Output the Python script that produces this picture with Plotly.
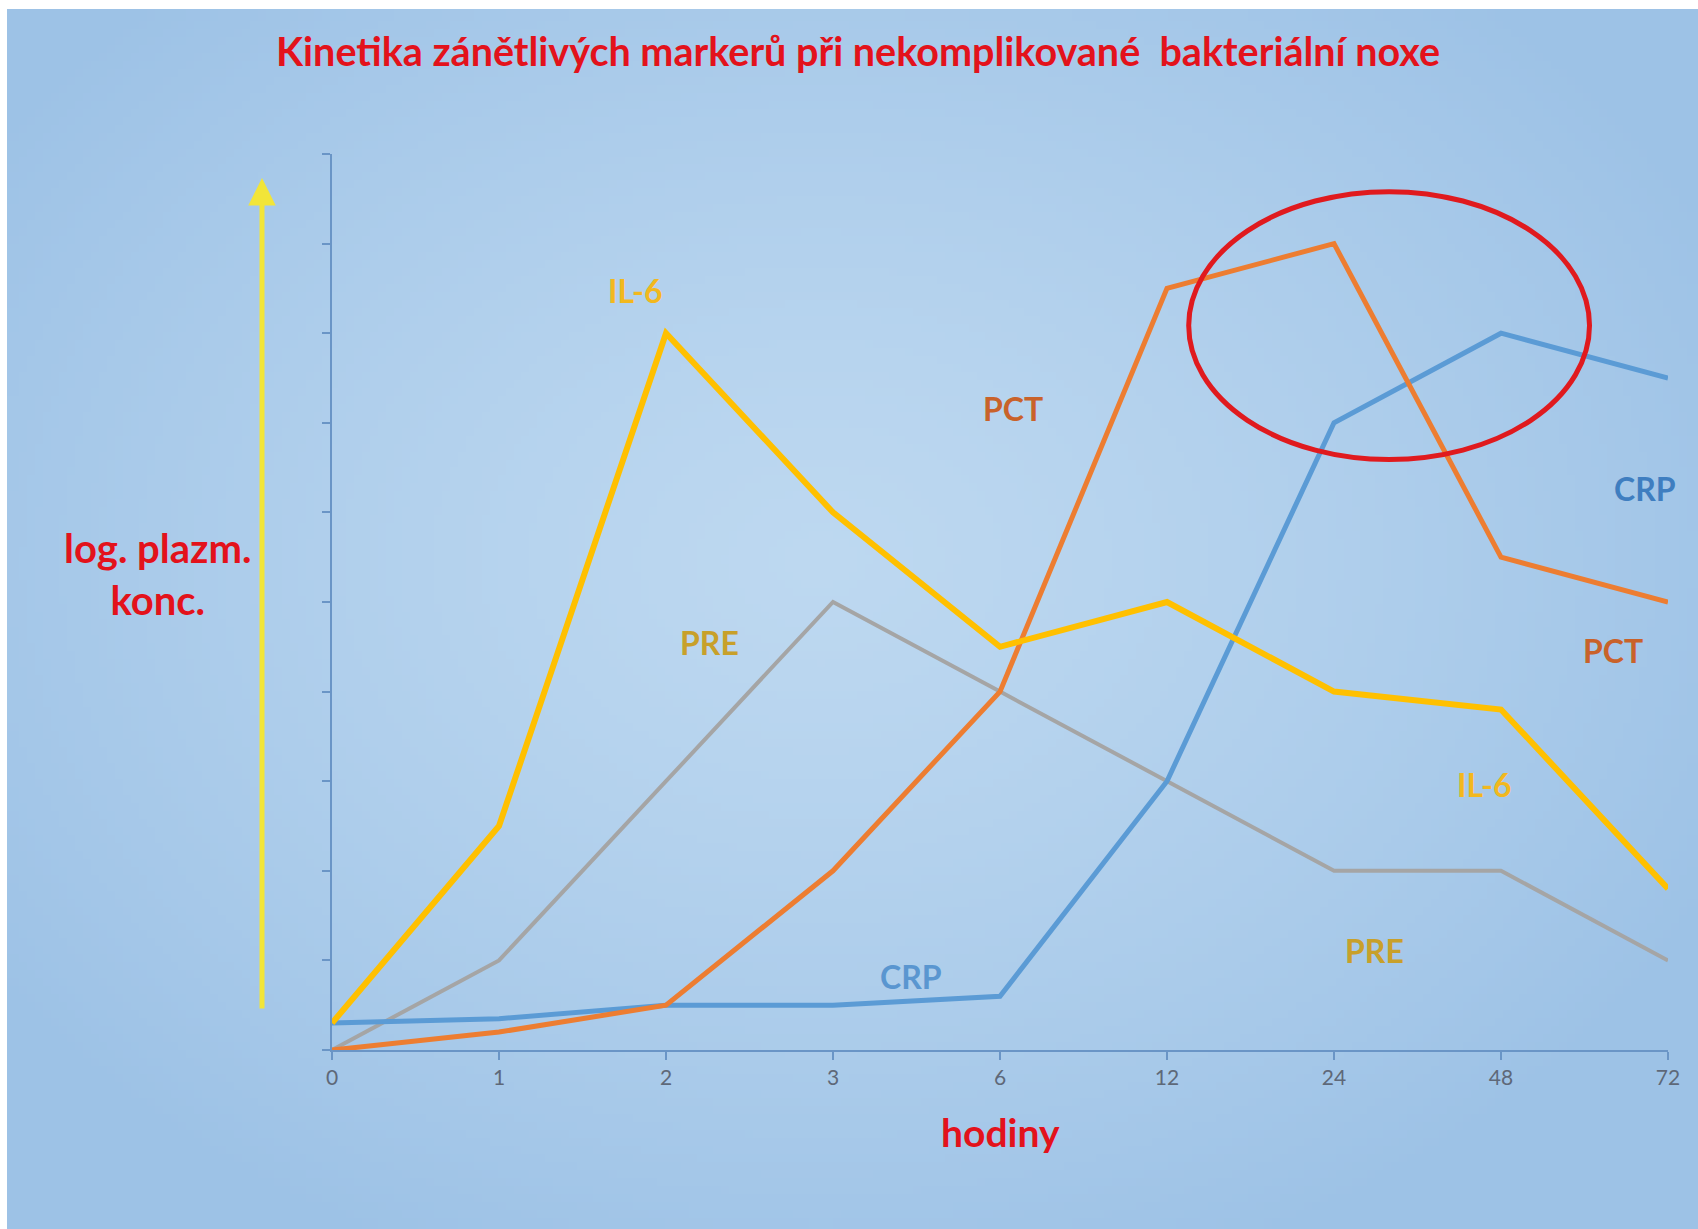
import base64
import struct
import zlib

import numpy as np
import plotly.graph_objects as go

# ---------------- data ----------------
hours = ["0", "1", "2", "3", "6", "12", "24", "48", "72"]
il6 = [0.3, 2.5, 8.0, 6.0, 4.5, 5.0, 4.0, 3.8, 1.8]
pct = [0.0, 0.2, 0.5, 2.0, 4.0, 8.5, 9.0, 5.5, 5.0]
crp = [0.3, 0.35, 0.5, 0.5, 0.6, 3.0, 7.0, 8.0, 7.5]
pre = [0.0, 1.0, 3.0, 5.0, 4.0, 3.0, 2.0, 2.0, 1.0]

title_text = "Kinetika zánětlivých markerů při nekomplikované\u00a0 bakteriální noxe"
x_title = "hodiny"
y_title = "log. plazm.<br>konc."

# ---------------- layout geometry ----------------
W, H = 1698, 1229
ML, MR, MT, MB = 332, 30, 154, 179
PW, PH = W - ML - MR, H - MT - MB


def px(xp):
    """page pixel x -> paper coordinate"""
    return (xp - ML) / PW


def py(yp):
    """page pixel y -> paper coordinate"""
    return (H - MB - yp) / PH


RED = "#E3121B"
YELLOW = "#FFC000"
ORANGE = "#ED7D31"
BLUE = "#5B9BD5"
GRAY = "#A5A5A5"
FONT = "Lato"


# ---------------- background gradient (style only) ----------------
def gradient_uri():
    w, h = 212, 153
    xs = (np.arange(w) + 0.5) / w * (1698 - 7) + 7
    ys = (np.arange(h) + 0.5) / h * (1229 - 9) + 9
    X, Y = np.meshgrid(xs, ys)
    d = np.sqrt(((X - 820) / 1000.0) ** 2 + ((Y - 560) / 760.0) ** 2)
    t = np.clip(d, 0, 1)[..., None] ** 1.3
    c0 = np.array([0xBD, 0xD8, 0xF0], dtype=float)
    c1 = np.array([0x9D, 0xC2, 0xE6], dtype=float)
    img = (c0 * (1 - t) + c1 * t).round().astype(np.uint8)
    raw = b"".join(b"\x00" + img[r].tobytes() for r in range(h))

    def chunk(tag, data):
        return (struct.pack(">I", len(data)) + tag + data
                + struct.pack(">I", zlib.crc32(tag + data) & 0xFFFFFFFF))

    png = (b"\x89PNG\r\n\x1a\n"
           + chunk(b"IHDR", struct.pack(">IIBBBBB", w, h, 8, 2, 0, 0, 0))
           + chunk(b"IDAT", zlib.compress(raw, 9))
           + chunk(b"IEND", b""))
    return "data:image/png;base64," + base64.b64encode(png).decode()


fig = go.Figure()

series = [
    ("PRE", pre, GRAY, 4),
    ("CRP", crp, BLUE, 5),
    ("PCT", pct, ORANGE, 5),
    ("IL-6", il6, YELLOW, 6),
]
for name, vals, col, wdt in series:
    fig.add_trace(go.Scatter(x=hours, y=vals, mode="lines", name=name,
                             line=dict(color=col, width=wdt),
                             showlegend=False, hoverinfo="x+y+name"))

annotations = []
# title
annotations.append(dict(text=title_text, xref="paper", yref="paper",
                        x=px(858), y=py(51), showarrow=False,
                        xanchor="center", yanchor="middle",
                        font=dict(family=FONT, size=39.5, color=RED, weight="bold")))
# x title
annotations.append(dict(text=x_title, xref="paper", yref="paper",
                        x=px(1000), y=py(1132), showarrow=False,
                        xanchor="center", yanchor="middle",
                        font=dict(family=FONT, size=39, color=RED, weight="bold")))
# y title
annotations.append(dict(text=y_title, xref="paper", yref="paper",
                        x=px(157), y=py(574), showarrow=False,
                        xanchor="center", yanchor="middle", align="center",
                        font=dict(family=FONT, size=40, color=RED, weight="bold")))
# yellow arrow
annotations.append(dict(text="", xref="paper", yref="paper",
                        x=px(262), y=py(178), ax=0, ay=832,
                        showarrow=True, arrowhead=2, arrowsize=1.1,
                        arrowwidth=5, arrowcolor="#F2E538"))

series_labels = [
    ("IL-6", 1.82, 8.48, "#F2B81E"),
    ("PRE", 2.26, 4.55, "#C8A02A"),
    ("PCT", 4.08, 7.16, "#C9622A"),
    ("CRP", 3.47, 0.82, "#5A96D0"),
    ("CRP", 7.86, 6.27, "#3F7EC0"),
    ("PCT", 7.67, 4.46, "#C9622A"),
    ("IL-6", 6.90, 2.96, "#F2B81E"),
    ("PRE", 6.24, 1.11, "#C8A02A"),
]
for txt, xi, yv, col in series_labels:
    annotations.append(dict(text=txt, x=xi, y=yv, xref="x", yref="y",
                            showarrow=False, xanchor="center", yanchor="middle",
                            font=dict(family=FONT, size=32, color=col, weight="bold")))

fig.update_layout(
    width=W, height=H,
    margin=dict(l=ML, r=MR, t=MT, b=MB, pad=0),
    paper_bgcolor="white",
    plot_bgcolor="rgba(0,0,0,0)",
    annotations=annotations,
    images=[dict(source=gradient_uri(), xref="paper", yref="paper",
                 x=px(7), y=py(9), sizex=px(1698) - px(7), sizey=py(9) - py(1229),
                 xanchor="left", yanchor="top", sizing="stretch",
                 layer="below", opacity=1)],
    shapes=[dict(type="circle", xref="x", yref="y",
                 x0=5.13, x1=7.53, y0=6.59, y1=9.58,
                 line=dict(color="#E01A1E", width=5))],
    xaxis=dict(type="category", categoryorder="array", categoryarray=hours,
               range=[0, 8], showgrid=False, zeroline=False,
               showline=True, linecolor="#6A95C6", linewidth=2,
               ticks="outside", ticklen=8, tickwidth=1.5, tickcolor="#6A95C6",
               tickfont=dict(family=FONT, size=21, color="#5E6878"),
               fixedrange=True),
    yaxis=dict(range=[0, 10], dtick=1, tick0=0, showgrid=False, zeroline=False,
               showline=True, linecolor="#6A95C6", linewidth=2,
               ticks="outside", ticklen=8, tickwidth=1.5, tickcolor="#6A95C6",
               showticklabels=False, fixedrange=True),
)

fig.write_html(
    "out.html",
    config={"displayModeBar": False},
    post_script="document.body.style.margin='0';"
                "document.body.style.overflow='hidden';"
                "document.documentElement.style.overflow='hidden';",
)
